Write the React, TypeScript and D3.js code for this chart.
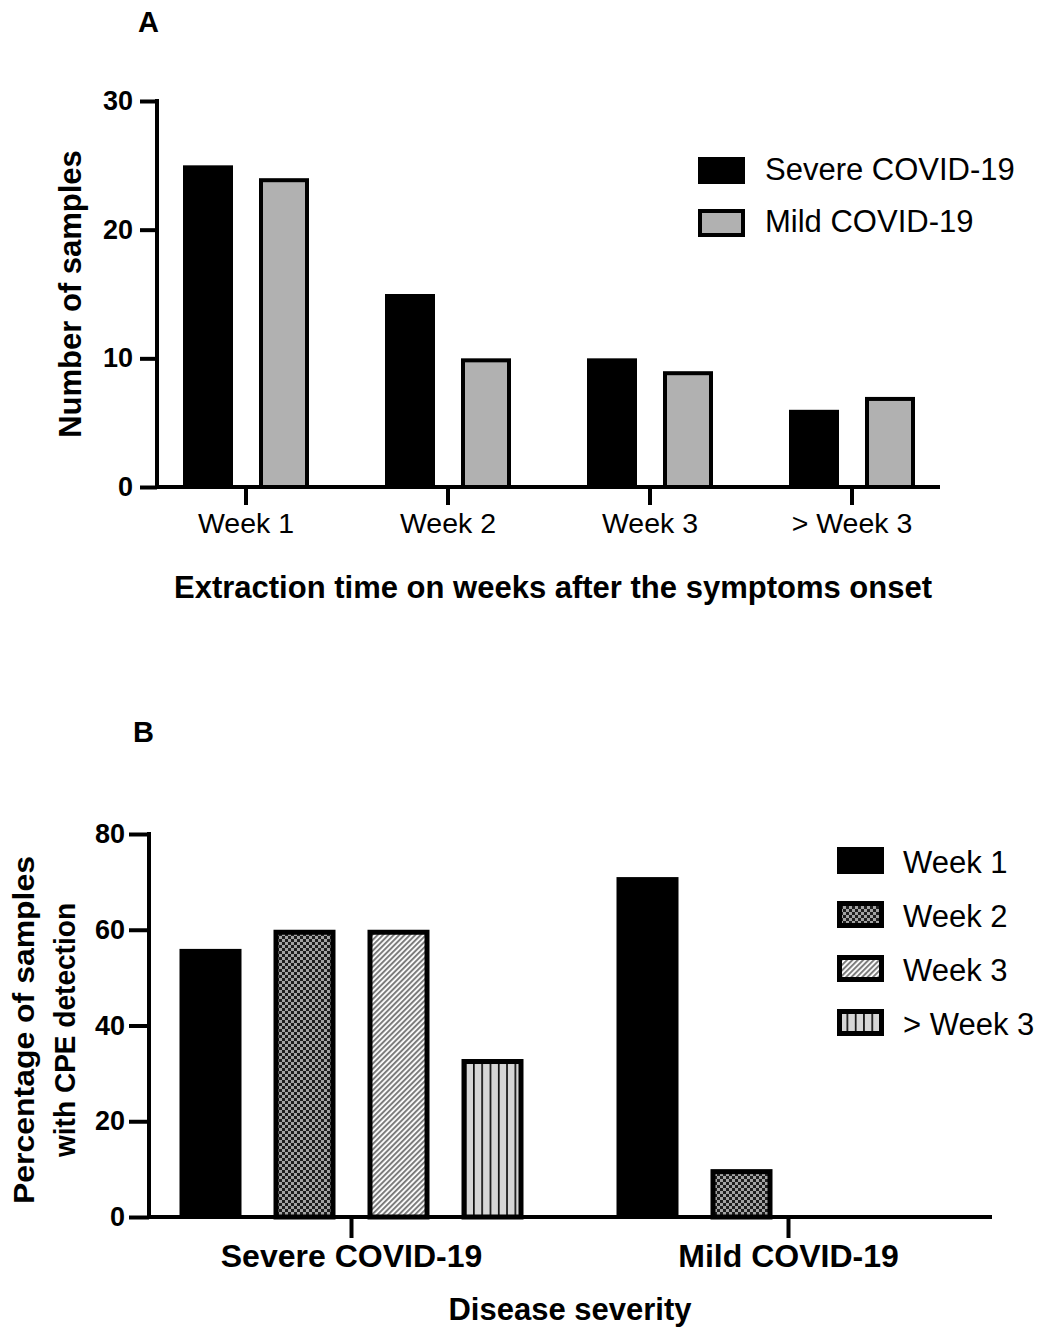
import React, { useEffect, useRef } from "react";
import * as d3 from "d3";

// panel A
const weeks = ["Week 1", "Week 2", "Week 3", "> Week 3"];
const severities = ["Severe COVID-19", "Mild COVID-19"];
const severeCounts = [25, 15, 10, 6];
const mildCounts = [24, 10, 9, 7];
const yTicksA = [0, 10, 20, 30];

// panel B
const groupsB = ["Severe COVID-19", "Mild COVID-19"];
const week1Pct = [56, 71];
const week2Pct = [60, 10];
const week3Pct = [60, 0];
const week3PlusPct = [33, 0];
const yTicksB = [0, 20, 40, 60, 80];

const FONT = "'Liberation Sans', Arial, Helvetica, sans-serif";

const App = () => {
  const svgRef = useRef<SVGSVGElement>(null);

  useEffect(() => {
    const width = 1039;
    const height = 1328;
    const svg = d3.select(svgRef.current);
    svg.selectAll("*").remove();
    svg.attr("width", width).attr("height", height).style("font-family", FONT);

    const defs = svg.append("defs");
    const checker = defs
      .append("pattern")
      .attr("id", "checker")
      .attr("patternUnits", "userSpaceOnUse")
      .attr("width", 6)
      .attr("height", 6);
    checker.append("rect").attr("width", 6).attr("height", 6).attr("fill", "#a3a3a3");
    checker.append("rect").attr("width", 3).attr("height", 3).attr("fill", "#1e1e1e");
    checker.append("rect").attr("x", 3).attr("y", 3).attr("width", 3).attr("height", 3).attr("fill", "#1e1e1e");

    const diag = defs
      .append("pattern")
      .attr("id", "diag")
      .attr("patternUnits", "userSpaceOnUse")
      .attr("width", 3.8)
      .attr("height", 10)
      .attr("patternTransform", "rotate(45)");
    diag.append("rect").attr("width", 3.8).attr("height", 10).attr("fill", "#fff");
    diag.append("rect").attr("width", 2).attr("height", 10).attr("fill", "#7c7c7c");

    const vert = defs
      .append("pattern")
      .attr("id", "vert")
      .attr("patternUnits", "userSpaceOnUse")
      .attr("x", 473)
      .attr("width", 8.3)
      .attr("height", 10);
    vert.append("rect").attr("width", 8.3).attr("height", 10).attr("fill", "#d6d6d6");
    vert.append("rect").attr("width", 1.7).attr("height", 10).attr("fill", "#111");

    const styleAxis = (g, size, weight) => {
      g.selectAll("line").attr("stroke", "#000").attr("stroke-width", 4);
      g.selectAll("text")
        .attr("fill", "#000")
        .style("font-size", size + "px")
        .style("font-weight", weight)
        .style("font-family", FONT);
    };

    // ---------- Panel A ----------
    const yA = d3.scaleLinear().domain([0, 30]).range([487, 101]);
    const xA = d3.scaleBand().domain(weeks).range([145, 953]);
    const subA = d3.scaleBand().domain(severities).range([-76, 76]);
    const barWA = 50;

    svg.append("text").attr("x", 138).attr("y", 32).text("A")
      .style("font-size", "29px").style("font-weight", "bold");

    const rowsA = weeks.map((w, i) => ({ week: w, values: [severeCounts[i], mildCounts[i]] }));
    rowsA.forEach((r) => {
      const cx = xA(r.week) + xA.bandwidth() / 2;
      r.values.forEach((v, j) => {
        const bx = cx + subA(severities[j]) + subA.bandwidth() / 2 - barWA / 2;
        if (j === 0) {
          svg.append("rect").attr("x", bx).attr("y", yA(v)).attr("width", barWA)
            .attr("height", yA(0) - yA(v)).attr("fill", "#000");
        } else {
          svg.append("rect").attr("x", bx + 2).attr("y", yA(v) + 2).attr("width", barWA - 4)
            .attr("height", yA(0) - yA(v) - 2).attr("fill", "#b1b1b1")
            .attr("stroke", "#000").attr("stroke-width", 4);
        }
      });
    });

    const gyA = svg.append("g").attr("transform", "translate(157,0)")
      .call(d3.axisLeft(yA).tickValues(yTicksA).tickSize(17).tickSizeOuter(0).tickPadding(7));
    gyA.select(".domain").remove();
    styleAxis(gyA, 27, "bold");
    svg.append("line").attr("x1", 157).attr("x2", 157).attr("y1", 99).attr("y2", 489)
      .attr("stroke", "#000").attr("stroke-width", 4);

    const gxA = svg.append("g").attr("transform", "translate(0,487)")
      .call(d3.axisBottom(xA).tickSize(18).tickSizeOuter(0).tickPadding(8));
    gxA.select(".domain").remove();
    styleAxis(gxA, 28.5, "normal");
    svg.append("line").attr("x1", 155).attr("x2", 940).attr("y1", 487).attr("y2", 487)
      .attr("stroke", "#000").attr("stroke-width", 4);

    svg.append("text").attr("x", 553).attr("y", 598).attr("text-anchor", "middle")
      .style("font-size", "31px").style("font-weight", "bold")
      .text("Extraction time on weeks after the symptoms onset");
    svg.append("text").attr("transform", "translate(81,294) rotate(-90)").attr("text-anchor", "middle")
      .style("font-size", "31px").style("font-weight", "bold").text("Number of samples");

    const legA = [
      { label: severities[0], fill: "#000", stroke: false },
      { label: severities[1], fill: "#b1b1b1", stroke: true },
    ];
    legA.forEach((d, i) => {
      const y = 157 + i * 52;
      svg.append("rect").attr("x", d.stroke ? 700 : 698).attr("y", d.stroke ? y + 2 : y)
        .attr("width", d.stroke ? 43 : 47).attr("height", d.stroke ? 24 : 27)
        .attr("fill", d.fill).attr("stroke", d.stroke ? "#000" : "none").attr("stroke-width", 4);
      svg.append("text").attr("x", 765).attr("y", y + 23).style("font-size", "31px").text(d.label);
    });

    // ---------- Panel B ----------
    const yB = d3.scaleLinear().domain([0, 80]).range([1217, 834]);
    const xB = d3.scaleBand().domain(groupsB).range([133, 1007]);
    const subB = d3.scaleBand().domain(weeks).range([-188, 188]);
    const barWB = 62;
    const seriesB = [
      { key: weeks[0], values: week1Pct, fill: "#000", stroke: false },
      { key: weeks[1], values: week2Pct, fill: "url(#checker)", stroke: true },
      { key: weeks[2], values: week3Pct, fill: "url(#diag)", stroke: true },
      { key: weeks[3], values: week3PlusPct, fill: "url(#vert)", stroke: true },
    ];

    svg.append("text").attr("x", 133).attr("y", 742).text("B")
      .style("font-size", "29px").style("font-weight", "bold");

    groupsB.forEach((g, gi) => {
      const cx = xB(g) + xB.bandwidth() / 2;
      seriesB.forEach((s) => {
        const v = s.values[gi];
        if (!v) return;
        const bx = cx + subB(s.key) + subB.bandwidth() / 2 - barWB / 2;
        if (!s.stroke) {
          svg.append("rect").attr("x", bx).attr("y", yB(v)).attr("width", barWB)
            .attr("height", yB(0) - yB(v)).attr("fill", s.fill);
        } else {
          svg.append("rect").attr("x", bx + 2.5).attr("y", yB(v) + 2.5).attr("width", barWB - 5)
            .attr("height", yB(0) - yB(v) - 2.5).attr("fill", s.fill)
            .attr("stroke", "#000").attr("stroke-width", 5);
        }
      });
    });

    const gyB = svg.append("g").attr("transform", "translate(149,0)")
      .call(d3.axisLeft(yB).tickValues(yTicksB).tickSize(20).tickSizeOuter(0).tickPadding(4));
    gyB.select(".domain").remove();
    styleAxis(gyB, 27, "bold");
    svg.append("line").attr("x1", 149).attr("x2", 149).attr("y1", 832).attr("y2", 1219)
      .attr("stroke", "#000").attr("stroke-width", 4);

    const gxB = svg.append("g").attr("transform", "translate(0,1217)")
      .call(d3.axisBottom(xB).tickSize(21).tickSizeOuter(0).tickPadding(6));
    gxB.select(".domain").remove();
    styleAxis(gxB, 32, "bold");
    svg.append("line").attr("x1", 147).attr("x2", 992).attr("y1", 1217).attr("y2", 1217)
      .attr("stroke", "#000").attr("stroke-width", 4);

    svg.append("text").attr("x", 570).attr("y", 1320).attr("text-anchor", "middle")
      .style("font-size", "31px").style("font-weight", "bold").text("Disease severity");
    const yTitle = svg.append("text").attr("transform", "translate(0,1030) rotate(-90)")
      .attr("text-anchor", "middle").style("font-size", "30px").style("font-weight", "bold");
    yTitle.append("tspan").attr("x", 0).attr("y", 34).attr("textLength", 348)
      .attr("lengthAdjust", "spacingAndGlyphs").text("Percentage of samples");
    yTitle.append("tspan").attr("x", 0).attr("y", 75).attr("textLength", 254)
      .attr("lengthAdjust", "spacingAndGlyphs").text("with CPE detection");

    seriesB.forEach((s, i) => {
      const y = 847 + i * 54;
      if (!s.stroke) {
        svg.append("rect").attr("x", 837).attr("y", y).attr("width", 47).attr("height", 27).attr("fill", s.fill);
      } else {
        svg.append("rect").attr("x", 839.5).attr("y", y + 2.5).attr("width", 42).attr("height", 22)
          .attr("fill", s.fill).attr("stroke", "#000").attr("stroke-width", 5);
      }
      svg.append("text").attr("x", 903).attr("y", y + 26).style("font-size", "31px").text(s.key);
    });
  }, []);

  return <svg ref={svgRef} style={{ position: "absolute", left: 0, top: 0 }}></svg>;
};

export default App;
